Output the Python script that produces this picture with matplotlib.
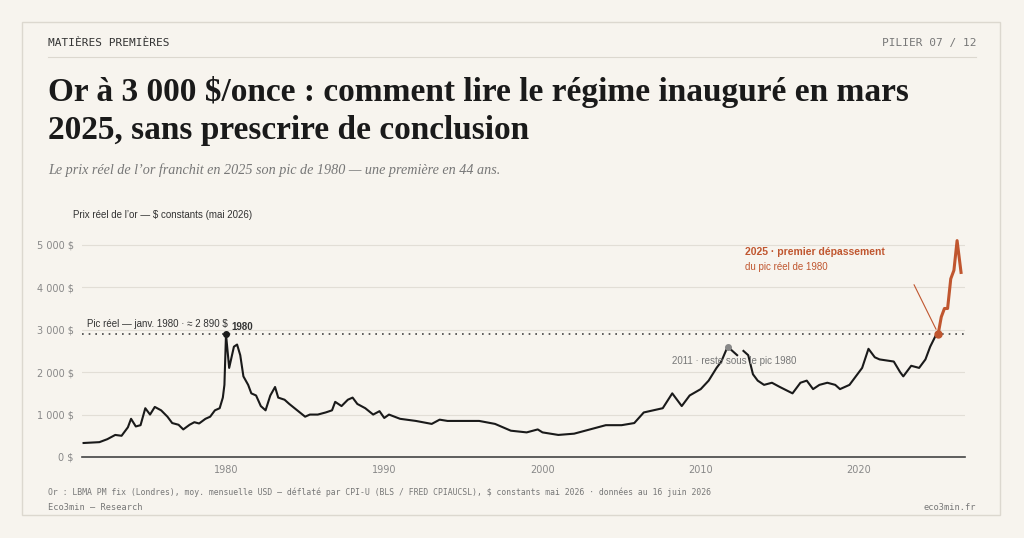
import matplotlib.pyplot as plt
import numpy as np
from matplotlib.patches import Rectangle

# prix réel de l'or, $ constants (mai 2026)
years = [1971.0, 1971.5, 1972.0, 1972.5, 1973.0, 1973.4, 1973.8, 1974.0, 1974.3, 1974.6, 1974.9,
         1975.2, 1975.5, 1975.9, 1976.3, 1976.6, 1977.0, 1977.3, 1977.7, 1978.0, 1978.3, 1978.7,
         1979.0, 1979.3, 1979.6, 1979.8, 1979.9, 1980.0, 1980.2, 1980.5, 1980.7, 1980.9, 1981.1,
         1981.4, 1981.6, 1981.9, 1982.2, 1982.5, 1982.8, 1983.1, 1983.3, 1983.7, 1984.0, 1984.5,
         1985.0, 1985.3, 1985.8, 1986.3, 1986.7, 1986.9, 1987.3, 1987.7, 1988.0, 1988.3, 1988.8,
         1989.3, 1989.7, 1990.0, 1990.3, 1991.0, 1992.0, 1993.0, 1993.5, 1994.0, 1995.0, 1996.0,
         1997.0, 1998.0, 1999.0, 1999.7, 2000.0, 2001.0, 2002.0, 2003.0, 2004.0, 2005.0, 2005.8,
         2006.4, 2007.0, 2007.6, 2008.2, 2008.8, 2009.3, 2010.0, 2010.5, 2011.0, 2011.3, 2011.7,
         2012.0, 2012.3, 2012.5, 2012.7, 2013.0, 2013.3, 2013.6, 2014.0, 2014.5, 2015.0, 2015.8,
         2016.3, 2016.7, 2017.1, 2017.5, 2018.0, 2018.5, 2018.8, 2019.4, 2019.8, 2020.2, 2020.6,
         2021.0, 2021.3, 2022.2, 2022.6, 2022.8, 2023.3, 2023.8, 2024.2, 2024.5, 2024.9, 2025.0]
prices = [330, 340, 350, 420, 520, 500, 700, 900, 720, 750, 1150,
          1000, 1180, 1100, 950, 800, 760, 650, 760, 820, 790, 900,
          950, 1100, 1150, 1400, 1700, 2890, 2100, 2600, 2650, 2400, 1900,
          1700, 1500, 1450, 1200, 1100, 1450, 1650, 1400, 1350, 1250, 1100,
          950, 1000, 1000, 1050, 1100, 1300, 1200, 1350, 1400, 1250, 1150,
          1000, 1080, 920, 1000, 900, 850, 780, 880, 850, 850, 850,
          780, 620, 580, 650, 580, 520, 550, 650, 750, 750, 800,
          1050, 1100, 1150, 1500, 1200, 1450, 1600, 1800, 2100, 2250, 2600,
          2500, 2400, np.nan, 2500, 2400, 1950, 1800, 1700, 1750, 1650, 1500,
          1750, 1800, 1600, 1700, 1750, 1700, 1600, 1700, 1900, 2100, 2550,
          2350, 2300, 2250, 2000, 1900, 2150, 2100, 2300, 2600, 2900, 2890]

years_2025 = [2025.0, 2025.2, 2025.4, 2025.6, 2025.8, 2026.0, 2026.2, 2026.45]
prices_2025 = [2890, 3300, 3500, 3500, 4200, 4400, 5100, 4350]

peak_1980 = 2890
yticks = [0, 1000, 2000, 3000, 4000, 5000]
ytick_labels = ["0 $", "1 000 $", "2 000 $", "3 000 $", "4 000 $", "5 000 $"]

bg = "#f7f4ee"
ink = "#1a1a1a"
rust = "#c0562f"
grey = "#777777"

W, H = 1024, 538
fig = plt.figure(figsize=(W / 100, H / 100), dpi=100)
fig.patch.set_facecolor(bg)

def px(x, y):
    return x / W, 1 - y / H

# card
fig.patches.append(Rectangle(px(22, 515), 978 / W, 493 / H, transform=fig.transFigure,
                             fill=False, edgecolor="#dcd8cf", lw=1))
fig.add_artist(plt.Line2D([48 / W, 976 / W], [1 - 57 / H] * 2, color="#dcd8cf", lw=0.8))

fig.text(*px(48, 43), "MATIÈRES PREMIÈRES", family="DejaVu Sans Mono",
         fontsize=8, color="#333333", va="center")
fig.text(*px(976, 43), "PILIER 07 / 12", family="DejaVu Sans Mono",
         fontsize=8, color=grey, va="center", ha="right")
fig.text(*px(48, 92), "Or à 3 000 $/once : comment lire le régime inauguré en mars",
         family="Liberation Serif", weight="bold", fontsize=24, color=ink, va="center")
fig.text(*px(48, 131), "2025, sans prescrire de conclusion",
         family="Liberation Serif", weight="bold", fontsize=24, color=ink, va="center")
fig.text(*px(48, 170), "Le prix réel de l’or franchit en 2025 son pic de 1980 — une première en 44 ans.",
         family="Liberation Serif", style="italic", fontsize=10.2, color=grey, va="center")
fig.text(*px(73, 215), "Prix réel de l’or — $ constants (mai 2026)", family="Liberation Sans",
         fontsize=7, color="#333333", va="center")
fig.text(*px(48, 492), "Or : LBMA PM fix (Londres), moy. mensuelle USD — déflaté par CPI-U (BLS / FRED CPIAUCSL), $ constants mai 2026 · données au 16 juin 2026",
         family="DejaVu Sans Mono", fontsize=5.9, color=grey, va="center")
fig.text(*px(48, 507), "Eco3min — Research", family="DejaVu Sans Mono", fontsize=6.2,
         color=grey, va="center")
fig.text(*px(976, 507), "eco3min.fr", family="DejaVu Sans Mono", fontsize=6.2,
         color=grey, va="center", ha="right")

ax = fig.add_axes([82 / W, 81 / H, 883 / W, 227 / H])
ax.set_facecolor(bg)
ax.plot(years, prices, color=ink, lw=1.5)
ax.plot(years_2025, prices_2025, color=rust, lw=2.2)
ax.axhline(peak_1980, color="#444444", lw=1.2, ls=(0, (1, 3)))
ax.plot([1980.0], [peak_1980], "o", color=ink, ms=4)
ax.plot([2011.7], [2600], "o", color="#888888", ms=4)
ax.plot([2025.0], [peak_1980], "o", color=rust, ms=5)

ax.set_xlim(1970.9, 2026.7)
ax.set_ylim(0, 5350)
ax.set_yticks(yticks)
ax.set_yticklabels(ytick_labels)
ax.set_xticks([1980, 1990, 2000, 2010, 2020])
ax.grid(axis="y", color="#e2ded6", lw=0.8)
ax.tick_params(length=0, labelsize=7, colors="#888888", pad=6)
for s in ["top", "right", "left"]:
    ax.spines[s].set_visible(False)
ax.spines["bottom"].set_color("#444444")
ax.spines["bottom"].set_linewidth(1.2)

ax.text(1971.2, 3060, "Pic réel — janv. 1980 · ≈ 2 890 $", fontsize=7, color="#333333",
        family="Liberation Sans")
ax.text(1980.35, 3000, "1980", fontsize=7, weight="bold", color="#333333", family="Liberation Sans")
ax.text(2008.2, 2200, "2011 · reste sous le pic 1980", fontsize=7, color=grey, family="Liberation Sans")
ax.text(2012.8, 4750, "2025 · premier dépassement", fontsize=7.5, weight="bold", color=rust,
        family="Liberation Sans")
ax.text(2012.8, 4400, "du pic réel de 1980", fontsize=7, color=rust, family="Liberation Sans")
ax.annotate("", xy=(2024.95, 2950), xytext=(2023.4, 4120),
            arrowprops=dict(arrowstyle="-", color=rust, lw=0.8))

fig.savefig("out.png", dpi=100, facecolor=bg)
